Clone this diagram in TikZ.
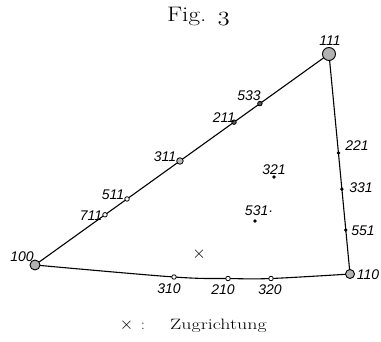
\documentclass[tikz,border=0pt]{standalone}
\usepackage{fontspec}
\newfontfamily\hand{Liberation Sans}
\usetikzlibrary{backgrounds,calc}
\begin{document}
\begin{tikzpicture}[x=1pt,y=-1pt,
  edge/.style={line width=1.1pt, black},
  bigdot/.style={circle, draw=black, line width=0.9pt, fill=gray!60, inner sep=0pt},
  meddot/.style={circle, draw=black, line width=0.8pt, fill=gray!55, inner sep=0pt, minimum size=6.5pt},
  opendot/.style={circle, draw=black, line width=0.8pt, fill=white, inner sep=0pt, minimum size=4.5pt},
  darkdot/.style={circle, draw=black, line width=0.8pt, fill=gray!70!black, inner sep=0pt, minimum size=4.5pt},
  blackdot/.style={circle, fill=black, inner sep=0pt, minimum size=3.8pt},
  lab/.style={font=\hand\itshape\fontsize{14}{14}\selectfont, inner sep=0pt},
]
\useasboundingbox (0,0) rectangle (381,342);
% corner poles
\node[bigdot, minimum size=10pt] (n100) at (35,265) {};
\node[bigdot, minimum size=13pt] (n111) at (329,54) {};
\node[bigdot, minimum size=9pt] (n110) at (350,274) {};
% on edge 100-111
\node[opendot] (n711) at ($(n100)!0.238!(n111)$) {};
\node[opendot] (n511) at ($(n100)!0.313!(n111)$) {};
\node[meddot] (n311) at ($(n100)!0.493!(n111)$) {};
\node[darkdot] (n211) at ($(n100)!0.677!(n111)$) {};
\node[darkdot] (n533) at ($(n100)!0.765!(n111)$) {};
% on edge 111-110
\node[blackdot] (n221) at ($(n111)!0.45!(n110)$) {};
\node[blackdot] (n331) at ($(n111)!0.614!(n110)$) {};
\node[blackdot] (n551) at ($(n111)!0.80!(n110)$) {};
% on edge 100-110
\node[opendot] (n310) at (174,277) {};
\node[opendot] (n210) at (228,278.5) {};
\node[opendot] (n320) at (271,278.5) {};
% interior
\node[blackdot] (n321) at (274,177) {};
\node[blackdot] (n531) at (255,221) {};
\node[font=\fontsize{16}{16}\selectfont, inner sep=0pt] (zx) at (199,254.5) {$\times$};
% edges
\begin{scope}[on background layer]
\draw[edge] (n100.center) -- (n111.center) -- (n110.center);
\draw[edge] plot[smooth, tension=0.6] coordinates {(n100.center) (n310.center) (n210.center) (n320.center) (n110.center)};
\end{scope}
% labels
\node[lab] (l111) at (330,41) {111};
\node[lab] (l533) at (249,96) {533};
\node[lab] (l211) at (224,118) {211};
\node[lab] (l311) at (165,157) {311};
\node[lab] (l511) at (113,195) {511};
\node[lab] (l711) at (91,216) {711};
\node[lab] (l100) at (22,257) {100};
\node[lab] (l310) at (169,288.5) {310};
\node[lab] (l210) at (223,290) {210};
\node[lab] (l320) at (270,290) {320};
\node[lab] (l221) at (357,146) {221};
\node[lab] (l331) at (361,188) {331};
\node[lab] (l551) at (363,231) {551};
\node[lab] (l110) at (368,274.5) {110};
\node[lab] (l321) at (274,169.5) {321};
\node[lab] (l531) at (259,211) {531\textperiodcentered};
% title and legend
\node[anchor=base, inner sep=0pt, font=\fontsize{21}{21}\selectfont] (title) at (198.5,22) {\scalebox{1.2}[1]{Fig.\hspace{0.45em}$\mathnormal{3}$}};
\node[inner sep=0pt, font=\fontsize{19}{19}\selectfont] (lx) at (126.5,325) {$\times$};
\node[anchor=base, inner sep=0pt, font=\fontsize{15}{15}\selectfont] (lcolon) at (143,330) {:};
\node[anchor=base west, inner sep=0pt, font=\fontsize{15}{15}\selectfont] (ltext) at (170,330) {\scalebox{1.33}[1]{Zugrichtung}};
\end{tikzpicture}
\end{document}
